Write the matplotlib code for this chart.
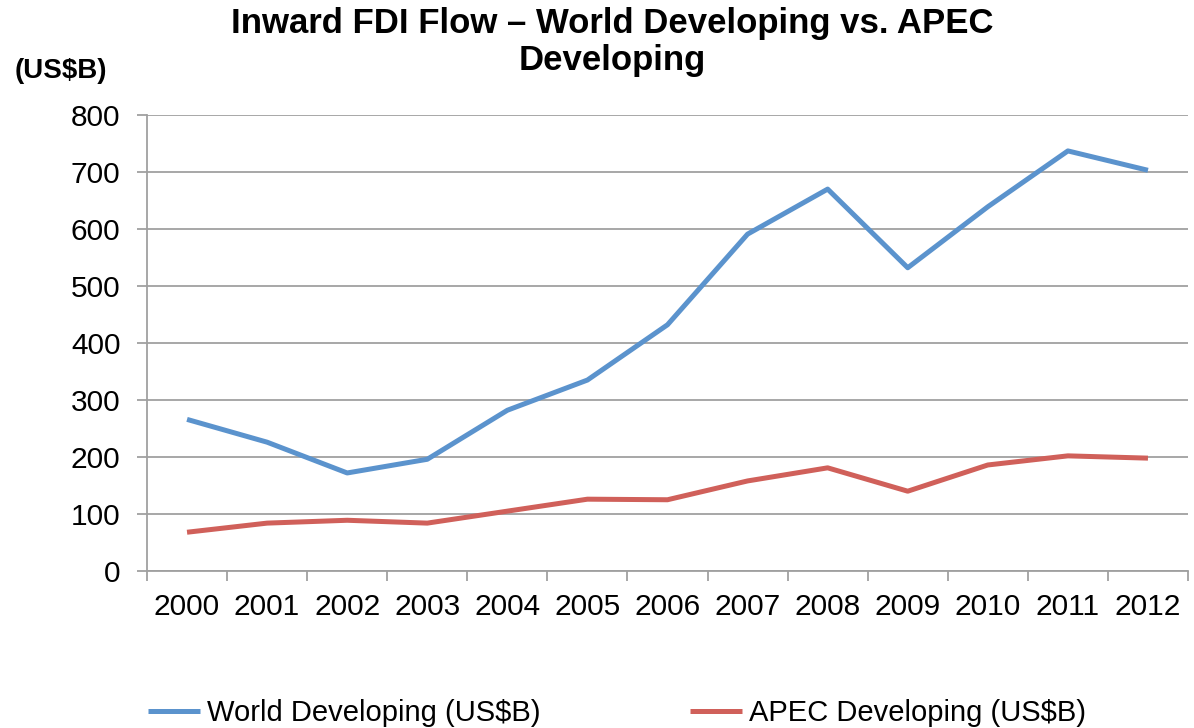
import matplotlib
matplotlib.use("Agg")
import matplotlib.pyplot as plt
import numpy as np

years = ["2000", "2001", "2002", "2003", "2004", "2005", "2006",
         "2007", "2008", "2009", "2010", "2011", "2012"]
world_dev = [266, 226, 172, 196, 282, 335, 432, 591, 670, 532, 639, 737, 703]
apec_dev = [68, 84, 89, 84, 105, 126, 125, 158, 181, 140, 186, 202, 198]

plt.rcParams['font.family'] = ['Liberation Sans', 'DejaVu Sans']

fig = plt.figure(figsize=(11.94, 7.28), dpi=100)
ax = fig.add_axes([147/1194, 1 - 571/728, (1188-147)/1194, (571-115)/728])

x = np.arange(len(years))
ax.plot(x, world_dev, color='#5B93CD', lw=3.6, label='World Developing (US$B)',
        solid_capstyle='butt', solid_joinstyle='round')
ax.plot(x, apec_dev, color='#D0605A', lw=3.6, label='APEC Developing (US$B)',
        solid_capstyle='butt', solid_joinstyle='round')

ax.set_xlim(-0.5, len(years) - 0.5)
ax.set_ylim(0, 800)
ax.set_yticks(np.arange(0, 801, 100))
ax.yaxis.grid(True, color='#A0A0A0', lw=1.3)
ax.set_axisbelow(True)

ax.set_xticks(np.arange(-0.5, len(years), 1.0))
ax.set_xticklabels([])
ax.set_xticks(x, minor=True)
ax.set_xticklabels(years, minor=True)
ax.tick_params(axis='x', which='major', length=7, width=1.3, color='#A0A0A0', direction='out')
ax.tick_params(axis='x', which='minor', length=0, pad=16, labelsize=21.5)
ax.tick_params(axis='y', length=7, width=1.3, color='#A0A0A0', direction='out', pad=12, labelsize=21.5)

for s in ['top', 'right']:
    ax.spines[s].set_visible(False)
for s in ['left', 'bottom']:
    ax.spines[s].set_color('#A0A0A0')
    ax.spines[s].set_linewidth(1.3)

fig.text(612/1194, 1 - 42/728, 'Inward FDI Flow – World Developing vs. APEC\nDeveloping',
         ha='center', va='center', fontsize=25, fontweight='bold', linespacing=1.15)
fig.text(15/1194, 1 - 71/728, '(US$B)', ha='left', va='center', fontsize=20, fontweight='bold')

fig.legend(loc='center', bbox_to_anchor=(617/1194, 1 - 713/728), ncol=2, frameon=False,
           fontsize=21, handlelength=1.78, handletextpad=0.24, columnspacing=5.1,
           borderaxespad=0, borderpad=0)

fig.savefig('out.png', dpi=100)
